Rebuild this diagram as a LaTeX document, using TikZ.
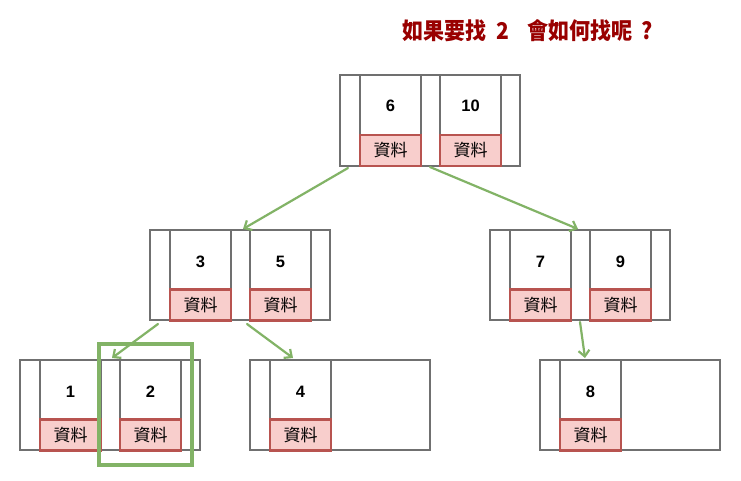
\documentclass[tikz,border=0pt]{standalone}
\usepackage{fontspec}
\setmainfont{Liberation Sans}
\newfontfamily\cjk{Noto Sans CJK TC}
\usetikzlibrary{arrows.meta}
\definecolor{boxgray}{HTML}{707070}
\definecolor{datafill}{HTML}{F8CECC}
\definecolor{dataline}{HTML}{B85450}
\definecolor{arrowgreen}{HTML}{82B366}
\definecolor{titlered}{HTML}{990000}
\tikzset{
  outerbox/.style={draw=boxgray, line width=1.3pt, minimum width=180pt, minimum height=91pt, inner sep=0pt},
  cellbox/.style={draw=boxgray, line width=1.3pt, minimum width=61pt, minimum height=91pt, inner sep=0pt},
  databox/.style={draw=dataline, fill=datafill, line width=2.6pt, minimum width=61pt, minimum height=31pt, inner sep=0pt, font=\cjk\fontsize{17}{17}\selectfont},
  keytext/.style={font=\bfseries\fontsize{16.5}{16.5}\selectfont, inner sep=0pt},
  link/.style={draw=arrowgreen, line width=2.2pt, line cap=round, -{Straight Barb[length=6pt,width=11pt,line width=2.2pt]}},
  hilite/.style={draw=arrowgreen, line width=4pt, minimum width=93pt, minimum height=121pt, inner sep=0pt},
  titletext/.style={font=\cjk\bfseries\fontsize{21}{21}\selectfont, text=titlered, inner sep=0pt, yscale=1.1, transform shape}
}
\begin{document}
\begin{tikzpicture}[x=1pt,y=-1pt]
\useasboundingbox (0,0) rectangle (741,481);
\fill[white] (0,0) rectangle (741,481);
% title
\node[titletext] (title) at (528,30.5) {如果要找\hspace{10pt}2\hspace{18pt}會如何找呢\hspace{9pt}?};
% root
\node[outerbox] (root) at (430,120.5) {};
\node[cellbox] (rootc1) at (390.5,120.5) {};
\node[cellbox] (rootc2) at (470.5,120.5) {};
\node[databox] (rootd1) at (390.5,150.5) {資料};
\node[databox] (rootd2) at (470.5,150.5) {資料};
\node[keytext] (rootk1) at (390.5,106) {6};
\node[keytext] (rootk2) at (470.5,106) {10};
% mid left
\node[outerbox, minimum height=90pt] (ml) at (240,275) {};
\node[cellbox, minimum height=90pt] (mlc1) at (200.5,275) {};
\node[cellbox, minimum height=90pt] (mlc2) at (280.5,275) {};
\node[databox] (mld1) at (200.5,305) {資料};
\node[databox] (mld2) at (280.5,305) {資料};
\node[keytext] (mlk1) at (200.5,262) {3};
\node[keytext] (mlk2) at (280.5,262) {5};
% mid right
\node[outerbox, minimum height=90pt] (mr) at (580,275) {};
\node[cellbox, minimum height=90pt] (mrc1) at (540.5,275) {};
\node[cellbox, minimum height=90pt] (mrc2) at (620.5,275) {};
\node[databox] (mrd1) at (540.5,305) {資料};
\node[databox] (mrd2) at (620.5,305) {資料};
\node[keytext] (mrk1) at (540.5,262) {7};
\node[keytext] (mrk2) at (620.5,262) {9};
% bottom left
\node[outerbox, minimum height=90pt] (bl) at (110,405) {};
\node[cellbox, minimum height=90pt] (blc1) at (70.5,405) {};
\node[cellbox, minimum height=90pt] (blc2) at (150.5,405) {};
\node[databox] (bld1) at (70.5,435) {資料};
\node[databox] (bld2) at (150.5,435) {資料};
\node[keytext] (blk1) at (70.5,392) {1};
\node[keytext] (blk2) at (150.5,392) {2};
% bottom middle
\node[outerbox, minimum height=90pt] (bm) at (340,405) {};
\node[cellbox, minimum height=90pt] (bmc1) at (300.5,405) {};
\node[databox] (bmd1) at (300.5,435) {資料};
\node[keytext] (bmk1) at (300.5,392) {4};
% bottom right
\node[outerbox, minimum height=90pt] (br) at (630,405) {};
\node[cellbox, minimum height=90pt] (brc1) at (590.5,405) {};
\node[databox] (brd1) at (590.5,435) {資料};
\node[keytext] (brk1) at (590.5,392) {8};
% highlight
\node[hilite] (hl) at (145.5,404.5) {};
% connector end points
\coordinate (r-a) at (348,168);
\coordinate (r-b) at (430,167);
\coordinate (ml-in) at (243,229);
\coordinate (mr-in) at (578,229);
\coordinate (ml-a) at (158,324);
\coordinate (ml-b) at (247,324);
\coordinate (mr-a) at (580,322);
\coordinate (bl-in) at (112,358);
\coordinate (bm-in) at (293,358);
\coordinate (br-in) at (585,358);
\draw[link] (r-a) -- (ml-in);
\draw[link] (r-b) -- (mr-in);
\draw[link] (ml-a) -- (bl-in);
\draw[link] (ml-b) -- (bm-in);
\draw[link] (mr-a) -- (br-in);
\end{tikzpicture}
\end{document}
